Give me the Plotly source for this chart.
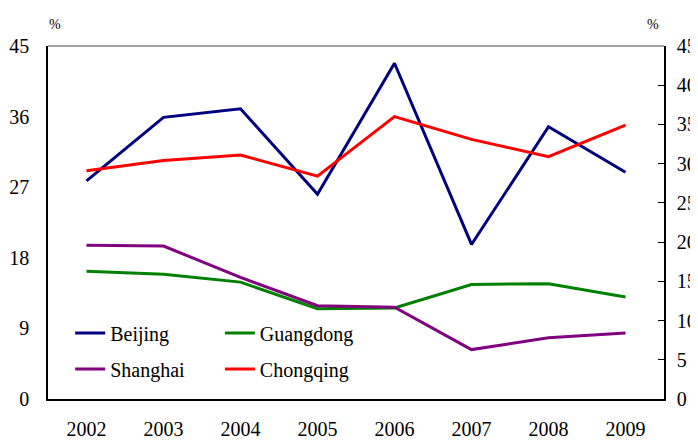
import plotly.graph_objects as go

years = ["2002", "2003", "2004", "2005", "2006", "2007", "2008", "2009"]
beijing = [27.8, 35.9, 37.0, 26.1, 42.8, 19.7, 34.7, 28.9]
guangdong = [16.3, 15.9, 14.9, 11.5, 11.6, 14.6, 14.7, 13.0]
shanghai = [19.6, 19.5, 15.5, 11.9, 11.7, 6.3, 7.8, 8.4]
chongqing = [29.1, 30.4, 31.1, 28.4, 36.0, 33.1, 30.9, 34.9]

FONT = "Liberation Serif"

fig = go.Figure()

series = [
    ("Beijing", beijing, "#000080", "legend"),
    ("Guangdong", guangdong, "#008000", "legend2"),
    ("Shanghai", shanghai, "#800080", "legend3"),
    ("Chongqing", chongqing, "#ff0000", "legend4"),
]
for name, vals, color, leg in series:
    fig.add_trace(go.Scatter(
        x=years, y=vals, mode="lines", name=name,
        line=dict(color=color, width=3),
        legend=leg,
    ))

# пустой след для правой оси
fig.add_trace(go.Scatter(x=years, y=[None] * len(years), yaxis="y2",
                         showlegend=False, hoverinfo="skip"))

leg_common = dict(font=dict(family=FONT, size=20, color="black"),
                  bgcolor="rgba(0,0,0,0)", xanchor="left", yanchor="middle")

# страница html добавляет отступ 8px, поэтому фигура чуть меньше окна
fig.update_layout(
    width=690, height=432,
    margin=dict(l=40, r=34, t=38, b=41, autoexpand=False),
    plot_bgcolor="white", paper_bgcolor="white",
    font=dict(family=FONT, size=20, color="black"),
    legend=dict(x=0.036, y=0.187, **leg_common),
    legend2=dict(x=0.279, y=0.187, **leg_common),
    legend3=dict(x=0.036, y=0.085, **leg_common),
    legend4=dict(x=0.279, y=0.085, **leg_common),
    xaxis=dict(
        type="category", range=[-0.5, 7.5], automargin=False,
        showline=True, linecolor="black", linewidth=1.5,
        showgrid=False, ticks="", ticklabelstandoff=11,
        tickfont=dict(family=FONT, size=20),
    ),
    yaxis=dict(
        range=[0, 45], dtick=9, tick0=0, automargin=False,
        showline=True, linecolor="black", linewidth=1.5,
        showgrid=False, zeroline=False, ticks="",
        ticklabelstandoff=13,
        tickfont=dict(family=FONT, size=20),
    ),
    yaxis2=dict(
        range=[0, 45], dtick=5, tick0=0, overlaying="y", side="right",
        automargin=False,
        showline=True, linecolor="black", linewidth=1.5,
        showgrid=False, zeroline=False, ticks="inside", ticklen=6,
        tickcolor="black", ticklabelstandoff=7,
        tickfont=dict(family=FONT, size=20),
    ),
    shapes=[dict(type="line", xref="paper", yref="paper",
                 x0=0, x1=1, y0=1, y1=1,
                 line=dict(color="#808080", width=1.5))],
    annotations=[
        dict(text="%", xref="paper", yref="paper", x=-0.002, y=1.088,
             showarrow=False, font=dict(family=FONT, size=14)),
        dict(text="%", xref="paper", yref="paper", x=0.995, y=1.088,
             showarrow=False, font=dict(family=FONT, size=14)),
    ],
)

fig.write_html("out.html")
